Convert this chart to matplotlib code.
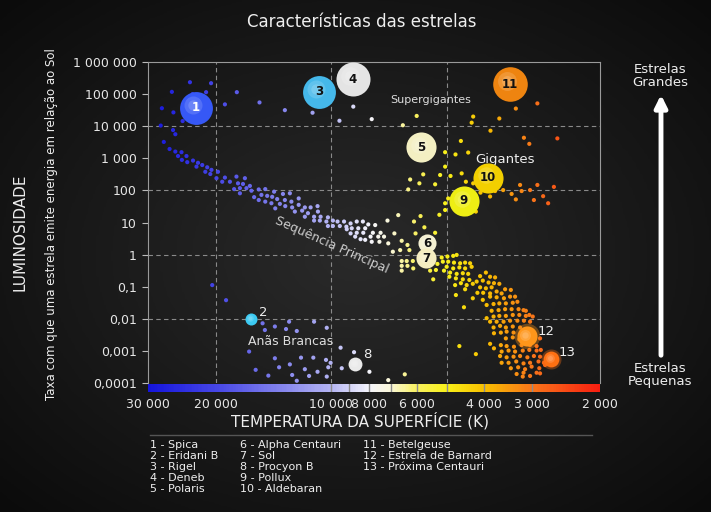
import numpy as np
import matplotlib
matplotlib.use("Agg")
import matplotlib.pyplot as plt
from matplotlib.colors import LinearSegmentedColormap, Normalize
from matplotlib.transforms import offset_copy

# ---- data (log10 of surface temperature in K, log10 of luminosity in L_sun) ----
ms_logt = [4.444, 4.412, 4.406, 4.436, 4.421, 4.406, 4.390, 4.399, 4.377, 4.389,
           4.375, 4.360, 4.347, 4.351, 4.336, 4.323, 4.328, 4.312, 4.315, 4.295,
           4.299, 4.277, 4.284, 4.264, 4.247, 4.225, 4.243, 4.230, 4.212, 4.253,
           4.238, 4.221, 4.238, 4.208, 4.189, 4.172, 4.201, 4.182, 4.189, 4.167,
           4.149, 4.154, 4.172, 4.141, 4.126, 4.108, 4.156, 4.134, 4.146, 4.121,
           4.104, 4.085, 4.120, 4.102, 4.085, 4.069, 4.054, 4.036, 4.095, 4.076,
           4.061, 4.035, 4.069, 4.045, 4.028, 4.009, 4.045, 4.030, 4.013, 3.996,
           3.984, 3.967, 4.009, 3.996, 3.978, 3.961,
           3.950, 3.934, 3.918, 3.904, 3.886, 3.960, 3.947, 3.930, 3.912, 3.950,
           3.934, 3.917, 3.892, 3.872, 3.854, 3.938, 3.924, 3.912, 3.898, 3.878,
           3.863, 3.895, 3.875, 3.852, 3.836, 3.840, 3.821, 3.817, 3.802, 3.797,
           3.781, 3.785, 3.826, 3.768, 3.758, 3.730, 3.817, 3.804, 3.788, 3.817,
           3.802, 3.817, 3.787, 3.743, 3.743, 3.724, 3.728, 3.735,
           3.713, 3.698, 3.683, 3.674, 3.710, 3.696, 3.681, 3.665, 3.652, 3.639,
           3.700, 3.683, 3.667, 3.652, 3.635, 3.707, 3.691, 3.674, 3.658, 3.644,
           3.693, 3.676, 3.658, 3.641, 3.678, 3.663, 3.648, 3.632, 3.676, 3.652,
           3.632, 3.655, 3.613, 3.598, 3.587, 3.574, 3.622, 3.606, 3.591, 3.577,
           3.563, 3.613, 3.598, 3.583, 3.620, 3.605, 3.587, 3.570, 3.557, 3.548,
           3.533, 3.606, 3.587, 3.570, 3.551, 3.535, 3.522, 3.596, 3.578, 3.563,
           3.546, 3.528, 3.516, 3.500, 3.583, 3.565, 3.548, 3.531, 3.513, 3.494,
           3.485, 3.596, 3.578, 3.563, 3.546, 3.528, 3.511, 3.494, 3.476, 3.587,
           3.570, 3.552, 3.535, 3.516, 3.499, 3.483, 3.578, 3.561, 3.546, 3.528,
           3.509, 3.577, 3.559, 3.544, 3.526, 3.546, 3.528, 3.511, 3.492, 3.474,
           3.457, 3.559, 3.544, 3.525, 3.505, 3.483, 3.466, 3.577, 3.557, 3.539,
           3.522, 3.502, 3.485, 3.466, 3.455, 3.561, 3.544, 3.526, 3.509, 3.490,
           3.473, 3.457, 3.557, 3.539, 3.519, 3.500, 3.483, 3.461, 3.447, 3.533,
           3.514, 3.496, 3.479, 3.459, 3.518, 3.500, 3.483, 3.466, 3.502, 3.457,
           3.440, 3.444, 3.667, 3.624, 3.587]
ms_logl = [4.02, 3.88, 3.75, 3.51, 3.29, 3.21, 3.19, 3.07, 3.07, 2.95,
           2.88, 2.93, 2.86, 2.74, 2.79, 2.72, 2.58, 2.64, 2.51, 2.58,
           2.38, 2.40, 2.27, 2.27, 2.43, 2.38, 2.22, 2.20, 2.14, 2.04,
           2.07, 2.07, 1.91, 1.99, 2.03, 2.04, 1.79, 1.86, 1.70, 1.83,
           1.96, 1.80, 1.65, 1.73, 1.89, 1.91, 1.60, 1.58, 1.44, 1.70,
           1.65, 1.75, 1.51, 1.47, 1.55, 1.47, 1.47, 1.51, 1.34, 1.37,
           1.29, 1.34, 1.18, 1.18, 1.18, 1.16, 1.06, 1.06, 1.03, 1.06,
           1.03, 1.03, 0.89, 0.89, 0.89, 0.87,
           0.97, 1.03, 1.03, 0.94, 0.92, 0.79, 0.82, 0.82, 0.82, 0.66,
           0.68, 0.68, 0.68, 0.68, 1.06, 0.56, 0.48, 0.46, 0.56, 0.56,
           0.56, 0.40, 0.40, 0.35, 0.66, 0.09, 0.14, 0.43, 0.30, 0.14,
           0.66, 1.03, 1.23, 1.20, 0.85, 0.68, -0.20, -0.20, -0.20, -0.35,
           -0.35, -0.50, -0.43, -0.32, -0.50, -0.29, -0.48, -0.77,
           -0.09, -0.06, -0.04, -0.01, -0.22, -0.22, -0.25, -0.27, -0.25, -0.27,
           -0.38, -0.43, -0.40, -0.43, -0.38, -0.50, -0.56, -0.60, -0.58, -0.60,
           -0.69, -0.74, -0.77, -0.79, -0.95, -0.89, -0.95, -0.91, -1.26, -1.08,
           -1.36, -1.64, -0.67, -0.56, -0.69, -0.71, -0.84, -0.81, -0.87, -0.89,
           -0.91, -1.02, -1.05, -1.02, -1.19, -1.19, -1.21, -1.15, -1.21, -1.08,
           -1.10, -1.41, -1.31, -1.33, -1.36, -1.31, -1.31, -1.57, -1.54, -1.52,
           -1.52, -1.50, -1.47, -1.73, -1.75, -1.73, -1.70, -1.70, -1.70, -1.75,
           -1.88, -1.98, -1.93, -1.91, -1.91, -1.88, -1.88, -1.91, -1.93, -2.09,
           -2.09, -2.09, -2.06, -2.06, -2.06, -2.09, -2.27, -2.22, -2.27, -2.24,
           -2.27, -2.45, -2.43, -2.40, -2.43, -2.61, -2.58, -2.64, -2.71, -2.66,
           -2.61, -2.82, -2.85, -2.87, -2.82, -2.82, -2.85, -2.92, -3.02, -2.99,
           -3.02, -2.99, -2.97, -2.99, -2.97, -3.16, -3.20, -3.18, -3.16, -3.20,
           -3.16, -3.18, -3.37, -3.37, -3.33, -3.39, -3.37, -3.33, -3.37, -3.54,
           -3.51, -3.57, -3.49, -3.54, -3.72, -3.68, -3.78, -3.68, -3.80, -3.70,
           -3.23, -3.44, -2.85, -3.10, -2.78]

giant_logt = [4.368, 4.313, 4.415, 4.361, 4.326, 4.246, 4.441, 4.411, 4.277, 4.187,
              4.121, 4.387, 4.049, 3.943, 3.979, 3.895, 3.778, 3.814, 3.631, 3.635,
              3.563, 3.520, 3.464, 3.586, 3.663, 3.499, 3.485, 3.412, 3.704, 3.677,
              3.644, 3.704, 3.761, 3.717, 3.690, 3.661, 3.795, 3.771, 3.730, 3.800,
              3.650, 3.631, 3.553, 3.531, 3.520, 3.509, 3.505, 3.483, 3.464, 3.449,
              3.473, 3.436, 3.421, 3.612, 3.587, 3.574, 3.639, 3.696, 3.704, 3.704,
              3.719, 3.646, 3.624]
giant_logl = [5.37, 5.34, 5.07, 5.00, 5.06, 5.06, 4.56, 4.43, 4.68, 4.74,
              4.50, 4.16, 4.42, 4.61, 4.17, 4.22, 4.32, 4.03, 4.30, 4.11,
              4.24, 4.55, 4.71, 3.86, 3.54, 3.64, 3.45, 3.62, 3.19, 3.12,
              3.18, 2.74, 2.50, 2.48, 2.45, 2.53, 2.34, 2.22, 2.19, 2.03,
              2.27, 2.22, 2.01, 1.89, 1.72, 2.17, 1.98, 2.01, 2.17, 1.82,
              1.70, 1.60, 2.11, 1.93, 1.81, 1.98, 1.96, 1.75, 1.60, 1.39,
              1.24, 1.26, 1.34]

wd_logt = [4.310, 4.274, 4.179, 4.147, 4.110, 4.045, 4.173, 4.118, 4.090, 4.012,
           4.214, 4.147, 4.079, 4.047, 4.014, 3.976, 3.941, 4.002, 4.108, 4.197,
           4.136, 4.069, 4.036, 4.008, 4.164, 4.102, 4.058, 4.012, 4.090, 3.973,
           3.901, 3.852, 3.809]
wd_logl = [-0.95, -1.42, -2.14, -2.24, -2.09, -2.09, -2.35, -2.32, -2.38, -2.28,
           -3.02, -3.23, -3.21, -3.21, -3.28, -2.90, -3.04, -3.37, -3.42, -3.59,
           -3.51, -3.57, -3.65, -3.51, -3.77, -3.75, -3.78, -3.80, -3.93, -3.54,
           -3.65, -3.91, -3.73]

star_ids = ["1", "2", "3", "4", "5", "6", "7", "8", "9", "10", "11", "12", "13"]
star_names = ["Spica", "Eridani B", "Rigel", "Deneb", "Polaris", "Alpha Centauri", "Sol",
              "Procyon B", "Pollux", "Aldebaran", "Betelgeuse", "Estrela de Barnard",
              "Próxima Centauri"]
star_logt = [4.352, 4.209, 4.032, 3.944, 3.767, 3.751, 3.754, 3.938, 3.655, 3.592, 3.535, 3.491, 3.428]
star_logl = [4.57, -2.01, 5.07, 5.47, 3.35, 0.36, -0.11, -3.41, 1.67, 2.39, 5.31, -2.54, -3.25]
star_colors = ["#3658f6", "#3ccaf2", "#45b8ea", "#e4e4e4", "#f3efc2", "#f4f0d2", "#f5edc0",
               "#eaeaea", "#eeee14", "#f2cf00", "#ee8410", "#ff961a", "#ff7012"]
star_sizes = [560, 75, 560, 600, 470, 170, 210, 100, 470, 470, 620, 210, 130]

ytick_vals = [1e6, 1e5, 1e4, 1e3, 100, 10, 1, 0.1, 0.01, 0.001, 0.0001]
ytick_labels = ["1 000 000", "100 000", "10 000", "1 000", "100", "10", "1",
                "0,1", "0,01", "0,001", "0,0001"]
xtick_vals = [30000, 20000, 10000, 8000, 6000, 4000, 3000, 2000]
xtick_labels = ["30 000", "20 000", "10 000", "8 000", "6 000", "4 000", "3 000", "2 000"]
band_edges = [10000, 9000, 8000, 7000, 6000, 5000, 4000, 3000]

W, H = 711, 512


def fx(px):
    return px / W


def fy(py):
    return 1 - py / H


# temperature colour scale: red (2000 K) -> blue (30000 K)
lo, hi = np.log10(2000), np.log10(30000)
nodes = [(2000, "#f81e10"), (3000, "#f8761a"), (4000, "#f8c000"), (5000, "#f8f018"),
         (6000, "#f8f060"), (7000, "#faf7d8"), (8000, "#f4f4fc"), (10000, "#b4b4f2"),
         (20000, "#4646e6"), (30000, "#1414dc")]
cmap = LinearSegmentedColormap.from_list(
    "temp", [((np.log10(t) - lo) / (hi - lo), c) for t, c in nodes])
norm = Normalize(lo, hi)

fig = plt.figure(figsize=(W / 100, H / 100), dpi=100)
fig.patch.set_facecolor("#151515")

# dark radial background
bg = fig.add_axes([0, 0, 1, 1], zorder=-10)
yy, xx = np.mgrid[0:1:200j, 0:1:200j]
rr = np.sqrt(((xx - 0.5) / 0.75) ** 2 + ((yy - 0.5) / 0.75) ** 2)
bg.imshow(np.clip(rr, 0, 1), extent=[0, 1, 0, 1], aspect="auto",
          cmap=LinearSegmentedColormap.from_list("bg", ["#2a2a2a", "#0b0b0b"]))
bg.axis("off")

ax = fig.add_axes([fx(148), fy(383), (600 - 148) / W, (383 - 62) / H])
ax.set_facecolor("none")
ax.set_xscale("log")
ax.set_yscale("log")
ax.set_xlim(30000, 2000)
ax.set_ylim(1e-4, 1e6)

for t in [20000, 10000, 5000]:
    ax.axvline(t, color="#8a8a8a", lw=0.8, ls=(0, (4, 3)), zorder=1)
for l in [1e4, 1e2, 1, 1e-2]:
    ax.axhline(l, color="#8a8a8a", lw=0.8, ls=(0, (4, 3)), zorder=1)

ax.set_yticks(ytick_vals)
ax.set_yticklabels(ytick_labels)
ax.yaxis.set_minor_locator(matplotlib.ticker.NullLocator())
ax.xaxis.set_minor_locator(matplotlib.ticker.NullLocator())
ax.set_xticks([])
ax.tick_params(axis="y", colors="#bbbbbb", labelcolor="#e6e6e6", labelsize=9,
               length=4, width=0.8, pad=4)
for side in ["top", "right", "left"]:
    ax.spines[side].set_color("#9a9a9a")
    ax.spines[side].set_linewidth(0.8)
ax.spines["bottom"].set_visible(False)

for xs, ys in [(ms_logt, ms_logl), (giant_logt, giant_logl), (wd_logt, wd_logl)]:
    xs = np.array(xs)
    ax.scatter(10 ** xs, 10 ** np.array(ys), c=xs, cmap=cmap, norm=norm,
               s=9, linewidths=0, zorder=3)

# named stars, shaded with a small off-centre highlight
outside = {"2": (12, 7), "8": (12, 10), "12": (19, 5), "13": (16, 6)}
for sid, lt, ll, col, sz in zip(star_ids, star_logt, star_logl, star_colors, star_sizes):
    x, y = 10 ** lt, 10 ** ll
    if sid in ("12", "13"):
        ax.scatter([x], [y], s=sz * 1.6, color=col, alpha=0.35, linewidths=0, zorder=4)
    ax.scatter([x], [y], s=sz, color=col, linewidths=0, zorder=5)
    d = np.sqrt(sz) * 0.08
    tr = offset_copy(ax.transData, fig=fig, x=-d, y=d, units="points")
    ax.scatter([x], [y], s=sz * 0.3, color="white", alpha=0.15, linewidths=0,
               zorder=6, transform=tr)
    ax.scatter([x], [y], s=sz * 0.1, color="white", alpha=0.15, linewidths=0,
               zorder=6, transform=tr)
    if sid in outside:
        ax.annotate(sid, (x, y), xytext=outside[sid], textcoords="offset pixels",
                    ha="center", va="center", color="#eeeeee", fontsize=9.5, zorder=7)
    else:
        ax.text(x, y, sid, ha="center", va="center", fontsize=8.5, fontweight="bold",
                color="white" if sid == "1" else "#111111", zorder=7)

ax.text(5500, 6.6e4, "Supergigantes", color="#dddddd", fontsize=8, ha="center", va="center")
ax.text(3530, 950, "Gigantes", color="#eeeeee", fontsize=9.5, ha="center", va="center")
ax.text(12800, 2.0e-3, "Anãs Brancas", color="#dddddd", fontsize=9, ha="center", va="center")
ax.text(9990, 2.0, "Sequência Principal", color="#cccccc", fontsize=9, ha="center",
        va="center", rotation=-24)

# temperature colour bar
cax = fig.add_axes([fx(148), fy(392), (600 - 148) / W, 8 / H])
grid_t = np.logspace(lo, hi, 401)
mid = np.log10(np.sqrt(grid_t[:-1] * grid_t[1:]))
cax.pcolormesh(grid_t, [0, 1], mid[None, :], cmap=cmap, norm=norm, shading="flat")
cax.set_xscale("log")
cax.set_xlim(30000, 2000)
cax.set_ylim(0, 1)
for t in band_edges:
    cax.axvline(t, color="#8c8c8c", lw=1)
cax.set_yticks([])
cax.set_xticks(xtick_vals)
cax.set_xticklabels(xtick_labels)
cax.xaxis.set_minor_locator(matplotlib.ticker.NullLocator())
cax.tick_params(axis="x", length=0, pad=4, labelsize=9, labelcolor="#e6e6e6")
for s in cax.spines.values():
    s.set_visible(False)

# titles and labels
fig.text(fx(362), fy(22), "Características das estrelas", color="#eeeeee", fontsize=12,
         ha="center", va="center")
fig.text(fx(360), fy(421), "TEMPERATURA DA SUPERFÍCIE (K)", color="#eeeeee", fontsize=11,
         ha="center", va="center")
fig.text(fx(20), fy(232), "LUMINOSIDADE", color="#eeeeee", fontsize=11, rotation=90,
         ha="center", va="center")
fig.text(fx(52), fy(224), "Taxa com que uma estrela emite energia em relação ao Sol",
         color="#eeeeee", fontsize=8.5, rotation=90, ha="center", va="center")

# size arrow
fig.text(fx(660), fy(76), "Estrelas\nGrandes", color="#eeeeee", fontsize=9.5,
         ha="center", va="center", linespacing=1.0)
fig.text(fx(660), fy(375), "Estrelas\nPequenas", color="#eeeeee", fontsize=9.5,
         ha="center", va="center", linespacing=1.0)
fig.add_artist(matplotlib.patches.FancyArrowPatch(
    (fx(661), fy(358)), (fx(661), fy(92)), transform=fig.transFigure,
    arrowstyle="-|>", mutation_scale=18, lw=3.5, color="white"))

# legend of named stars
fig.add_artist(matplotlib.lines.Line2D([fx(150), fx(592)], [fy(435), fy(435)],
                                       transform=fig.transFigure, color="#555555", lw=1))
col_x = [150, 240, 363]
for i, (sid, name) in enumerate(zip(star_ids, star_names)):
    col, row = i // 5, i % 5
    fig.text(fx(col_x[col]), fy(445 + row * 11), f"{sid} - {name}", color="#eeeeee",
             fontsize=8, ha="left", va="center")

fig.savefig("out.png", dpi=100, facecolor=fig.get_facecolor())
